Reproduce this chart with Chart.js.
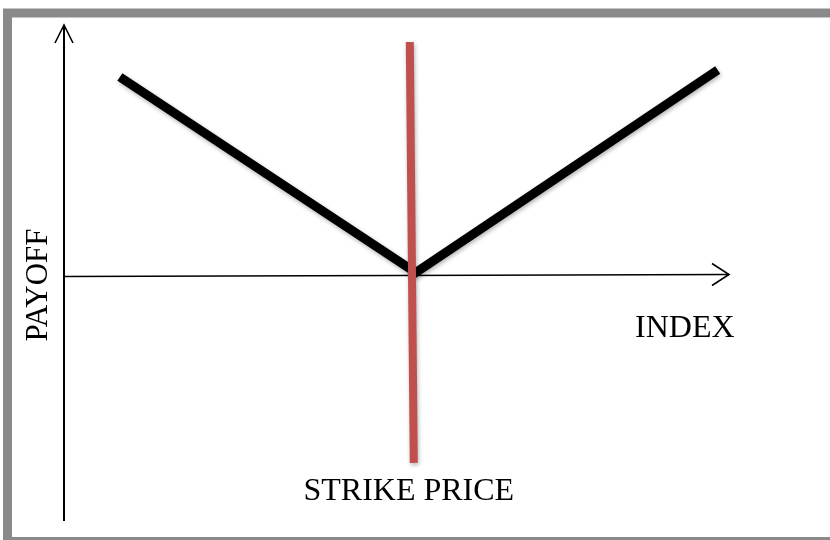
<!DOCTYPE html>
<html>
<head>
<meta charset="utf-8">
<script src="https://cdn.jsdelivr.net/npm/chart.js@4/dist/chart.umd.min.js"></script>
<style>
  html, body { margin: 0; padding: 0; background: #fff; }
  #wrap { position: relative; width: 830px; height: 540px; overflow: hidden; }
</style>
</head>
<body>
<div id="wrap"><canvas id="chart" width="830" height="540"></canvas></div>
<script>
// ---- data (abstract units: index 0..100, payoff -49..50) ----
const indexRange = [0, 100];
const payoffRange = [-49, 50];
const payoffIndex = [8.4, 52.9, 98.3];
const payoffValues = [39.6, 0.6, 41.0];
const strikeIndex = [52.0, 52.6];
const strikeValues = [46.6, -37.4];
const xTitle = 'INDEX';
const yTitle = 'PAYOFF';
const strikeTitle = 'STRIKE PRICE';

const toPoints = (xs, ys) => xs.map((x, i) => ({ x: x, y: ys[i] }));

const SERIF = '"Liberation Serif", "DejaVu Serif", serif';

// frame, arrows and labels
const diagramPlugin = {
    id: 'diagram',
    beforeDraw(chart) {
        const ctx = chart.ctx;
        ctx.save();
        ctx.fillStyle = '#ffffff';
        ctx.fillRect(0, 0, chart.width, chart.height);
        ctx.strokeStyle = '#8a8a8a';
        ctx.lineWidth = 9;
        ctx.strokeRect(7.5, 13, 900, 528.5);
        ctx.restore();
    },
    beforeDatasetsDraw(chart) {
        const ctx = chart.ctx;
        const xs = chart.scales.x;
        const ys = chart.scales.y;
        const x0 = xs.getPixelForValue(indexRange[0]);
        const x1 = xs.getPixelForValue(indexRange[1]);
        const yZero = ys.getPixelForValue(0);
        const yTop = ys.getPixelForValue(payoffRange[1]);
        const yBot = ys.getPixelForValue(payoffRange[0]);
        ctx.save();
        ctx.strokeStyle = '#000';
        ctx.lineCap = 'butt';
        // y axis
        ctx.lineWidth = 2;
        ctx.beginPath();
        ctx.moveTo(x0, yBot);
        ctx.lineTo(x0, yTop);
        ctx.stroke();
        ctx.lineWidth = 1.6;
        ctx.beginPath();
        ctx.moveTo(x0 - 9, yTop + 18);
        ctx.lineTo(x0, yTop);
        ctx.lineTo(x0 + 9, yTop + 18);
        ctx.stroke();
        // x axis
        ctx.lineWidth = 1.5;
        ctx.beginPath();
        ctx.moveTo(x0, yZero + 1);
        ctx.lineTo(x1, yZero - 1);
        ctx.stroke();
        ctx.lineWidth = 1.6;
        ctx.beginPath();
        ctx.moveTo(x1 - 17, yZero - 12);
        ctx.lineTo(x1, yZero - 1);
        ctx.lineTo(x1 - 17, yZero + 10);
        ctx.stroke();
        ctx.restore();
    },
    beforeDatasetDraw(chart) {
        const ctx = chart.ctx;
        ctx.save();
        ctx.shadowColor = 'rgba(0, 0, 0, 0.3)';
        ctx.shadowBlur = 4;
        ctx.shadowOffsetX = 1;
        ctx.shadowOffsetY = 2;
    },
    afterDatasetDraw(chart) {
        chart.ctx.restore();
    },
    afterDatasetsDraw(chart) {
        const ctx = chart.ctx;
        const xs = chart.scales.x;
        const ys = chart.scales.y;
        const x1 = xs.getPixelForValue(indexRange[1]);
        const yZero = ys.getPixelForValue(0);
        const xStrike = xs.getPixelForValue(strikeIndex[1]);
        const yStrikeEnd = ys.getPixelForValue(strikeValues[1]);
        ctx.save();
        ctx.fillStyle = '#000';
        ctx.font = '32px ' + SERIF;
        ctx.textBaseline = 'alphabetic';

        ctx.textAlign = 'left';
        ctx.fillText(xTitle, x1 - 94, yZero + 61);

        ctx.textAlign = 'center';
        ctx.fillText(strikeTitle, xStrike - 5, yStrikeEnd + 37);

        ctx.translate(47, 285);
        ctx.rotate(-Math.PI / 2);
        ctx.font = '31px ' + SERIF;
        ctx.fillText(yTitle, 0, 0);
        ctx.restore();
    },
};

const ctx = document.getElementById('chart').getContext('2d');
new Chart(ctx, {
    type: 'scatter',
    data: {
        datasets: [
            {
                label: 'Payoff',
                data: toPoints(payoffIndex, payoffValues),
                showLine: true,
                borderColor: '#000000',
                borderWidth: 9,
                borderJoinStyle: 'miter',
                borderCapStyle: 'butt',
                pointRadius: 0,
                clip: false,
            },
            {
                label: 'Strike',
                data: toPoints(strikeIndex, strikeValues),
                showLine: true,
                borderColor: '#c0504d',
                borderWidth: 8,
                borderCapStyle: 'butt',
                pointRadius: 0,
                clip: false,
                order: -1,
            },
        ],
    },
    options: {
        responsive: false,
        devicePixelRatio: 1,
        animation: false,
        layout: { padding: { left: 64, right: 101, top: 25, bottom: 19 } },
        scales: {
            x: { type: 'linear', min: indexRange[0], max: indexRange[1], display: false },
            y: { type: 'linear', min: payoffRange[0], max: payoffRange[1], display: false },
        },
        plugins: {
            legend: { display: false },
            tooltip: { enabled: false },
        },
    },
    plugins: [diagramPlugin],
});
</script>
</body>
</html>
